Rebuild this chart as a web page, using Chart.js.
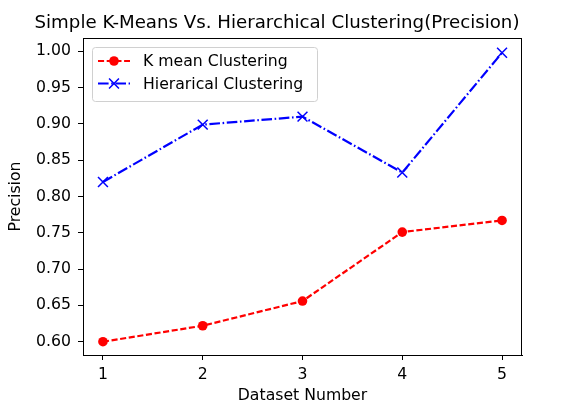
<!DOCTYPE html>
<html>
<head>
<meta charset="utf-8">
<script src="https://cdn.jsdelivr.net/npm/chart.js@4/dist/chart.umd.min.js"></script>
<style>
    html, body { margin: 0; padding: 0; background: #fff; }
    canvas { display: block; }
</style>
</head>
<body>
<canvas id="chart" width="569" height="404"></canvas>
<script>
// Values
const datasetNumbers = [1, 2, 3, 4, 5];
const kMeansPrecision = [0.600, 0.622, 0.656, 0.751, 0.767];
const hierPrecision = [0.820, 0.899, 0.910, 0.833, 0.998];
const xTicks = [1, 2, 3, 4, 5];
const yTicks = [0.60, 0.65, 0.70, 0.75, 0.80, 0.85, 0.90, 0.95, 1.00];

const FONT = "'DejaVu Sans', sans-serif";
const TITLE = 'Simple K-Means Vs. Hierarchical Clustering(Precision)';
const LABEL_SIZE = 15.7;

function toPoints(xs, ys) {
    return xs.map((x, i) => ({ x: x, y: ys[i] }));
}

// Title, closed frame and matplotlib-like legend
const decorPlugin = {
    id: 'decor',
    afterDraw(chart) {
        const ctx = chart.ctx;
        const area = chart.chartArea;
        ctx.save();
        ctx.setLineDash([]);
        ctx.globalAlpha = 1;

        // top and right spines
        const l = Math.round(area.left), t = Math.round(area.top);
        const r = Math.round(area.right), b = Math.round(area.bottom);
        ctx.fillStyle = '#000';
        ctx.fillRect(l, t, r - l, 1);
        ctx.fillRect(r - 1, t, 1, b - t);

        // title
        ctx.font = '18.2px ' + FONT;
        ctx.textAlign = 'center';
        ctx.textBaseline = 'alphabetic';
        ctx.fillText(TITLE, 277, 28);

        // legend box
        const bx = area.left + 9, by = area.top + 9, bw = 225, bh = 54;
        ctx.beginPath();
        ctx.roundRect(bx + 0.5, by + 0.5, bw, bh, 3);
        ctx.fillStyle = 'rgba(255,255,255,0.8)';
        ctx.fill();
        ctx.strokeStyle = '#d0d0d0';
        ctx.lineWidth = 1;
        ctx.stroke();

        ctx.font = LABEL_SIZE + 'px ' + FONT;
        ctx.textAlign = 'left';
        ctx.textBaseline = 'middle';
        chart.data.datasets.forEach((ds, i) => {
            const y = by + 14 + i * 22.5;
            const x0 = bx + 6, x1 = bx + 38, xm = (x0 + x1) / 2;
            ctx.strokeStyle = ds.borderColor;
            ctx.lineWidth = ds.borderWidth;
            ctx.setLineDash(ds.borderDash);
            ctx.beginPath();
            ctx.moveTo(x0, y);
            ctx.lineTo(x1, y);
            ctx.stroke();
            ctx.setLineDash([]);
            ctx.fillStyle = ds.pointBackgroundColor;
            ctx.strokeStyle = ds.pointBorderColor;
            ctx.lineWidth = ds.pointBorderWidth;
            ctx.beginPath();
            if (ds.pointStyle === 'circle') {
                ctx.arc(xm, y, ds.pointRadius, 0, Math.PI * 2);
                ctx.fill();
            } else {
                const rr = ds.pointRadius * Math.SQRT1_2;
                ctx.moveTo(xm - rr, y - rr); ctx.lineTo(xm + rr, y + rr);
                ctx.moveTo(xm - rr, y + rr); ctx.lineTo(xm + rr, y - rr);
                ctx.stroke();
            }
            ctx.fillStyle = '#000';
            ctx.fillText(ds.label, bx + 51, y + 1);
        });
        ctx.restore();
    }
};

new Chart(document.getElementById('chart'), {
    type: 'line',
    data: {
        datasets: [{
            label: 'K mean Clustering',
            data: toPoints(datasetNumbers, kMeansPrecision),
            borderColor: '#ff0000',
            borderWidth: 2.2,
            borderDash: [6.1, 2.6],
            pointStyle: 'circle',
            pointRadius: 4.8,
            pointBackgroundColor: '#ff0000',
            pointBorderColor: '#ff0000',
            pointBorderWidth: 0,
            tension: 0
        }, {
            label: 'Hierarical Clustering',
            data: toPoints(datasetNumbers, hierPrecision),
            borderColor: '#0000ff',
            borderWidth: 2.2,
            borderDash: [10.6, 2.6, 1.6, 2.6],
            pointStyle: 'crossRot',
            pointRadius: 7,
            pointBackgroundColor: '#0000ff',
            pointBorderColor: '#0000ff',
            pointBorderWidth: 1.5,
            tension: 0
        }]
    },
    options: {
        responsive: false,
        animation: false,
        layout: { padding: { top: 38, right: 47, left: 0, bottom: 0 } },
        plugins: {
            legend: { display: false },
            title: { display: false },
            tooltip: { enabled: false }
        },
        scales: {
            x: {
                type: 'linear',
                min: 0.8,
                max: 5.2,
                afterFit: function (scale) { scale.height = 49; },
                afterBuildTicks: function (scale) {
                    scale.ticks = xTicks.map(v => ({ value: v }));
                },
                grid: { display: true, drawOnChartArea: false, drawTicks: true, tickLength: 5, color: '#000' },
                border: { display: true, color: '#000', width: 1 },
                ticks: {
                    color: '#000',
                    padding: 6,
                    font: { family: FONT, size: LABEL_SIZE },
                    callback: v => String(v)
                },
                title: {
                    display: true,
                    text: 'Dataset Number',
                    color: '#000',
                    font: { family: FONT, size: LABEL_SIZE },
                    padding: { top: 0, bottom: -1 }
                }
            },
            y: {
                type: 'linear',
                min: 0.5817,
                max: 1.0183,
                afterFit: function (scale) { scale.width = 83; },
                afterBuildTicks: function (scale) {
                    scale.ticks = yTicks.map(v => ({ value: v }));
                },
                grid: { display: true, drawOnChartArea: false, drawTicks: true, tickLength: 5, color: '#000' },
                border: { display: true, color: '#000', width: 1 },
                ticks: {
                    color: '#000',
                    padding: 7,
                    font: { family: FONT, size: LABEL_SIZE },
                    callback: v => Number(v).toFixed(2)
                },
                title: {
                    display: true,
                    text: 'Precision',
                    color: '#000',
                    font: { family: FONT, size: LABEL_SIZE },
                    padding: { top: 7, bottom: 0 }
                }
            }
        }
    },
    plugins: [decorPlugin]
});
</script>
</body>
</html>
